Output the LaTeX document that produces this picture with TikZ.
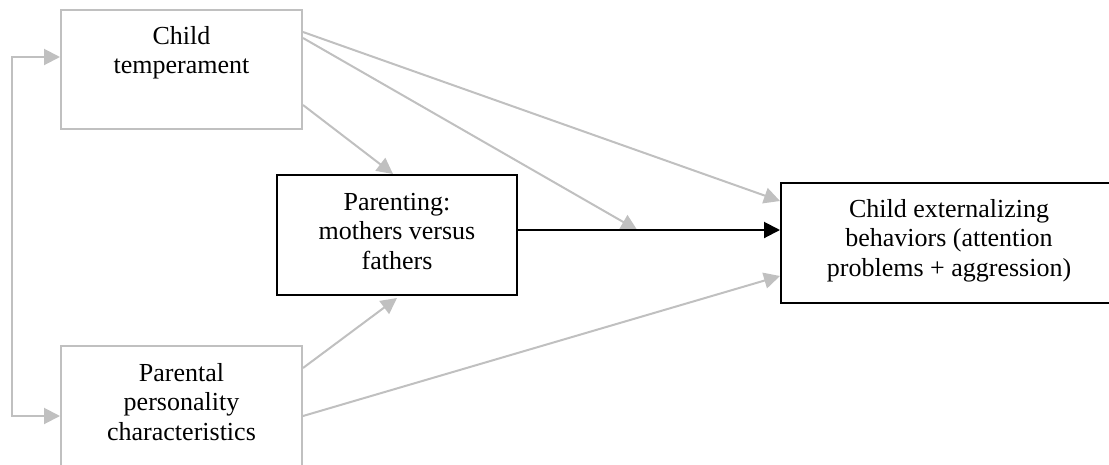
\documentclass[tikz,border=0pt]{standalone}
\usepackage{fontspec}
\setmainfont{Liberation Serif}
\usetikzlibrary{arrows.meta,calc}
\definecolor{linegray}{RGB}{192,192,192}
\begin{document}
\begin{tikzpicture}[x=1pt,y=-1pt,
  graybox/.style={draw=linegray, line width=2pt, fill=white, inner sep=0pt},
  blackbox/.style={draw=black, line width=2pt, fill=white, inner sep=0pt},
  lbl/.style={font=\fontsize{26}{29.5}\selectfont, align=center, inner sep=0pt},
  grayline/.style={draw=linegray, line width=2pt},
  grayarrow/.style={grayline, -{Triangle[length=16pt,width=16pt]}},
  blackarrow/.style={draw=black, line width=2pt, -{Triangle[length=16pt,width=16pt]}}]
\useasboundingbox (0,0) rectangle (1109,464);
\clip (0,0) rectangle (1109,464);

% boxes
\node[graybox, minimum width=241pt, minimum height=119pt] (ct) at (181.5,69.5) {};
\node[graybox, minimum width=241pt, minimum height=121pt] (pp) at (181.5,406.5) {};
\node[blackbox, minimum width=240pt, minimum height=120pt] (par) at (397,235) {};
\node[blackbox, minimum width=336pt, minimum height=120pt] (ext) at (949,243) {};

% box texts
\node[lbl, anchor=north] (ct-t) at ($(ct.north)+(0,17)$) {Child\\temperament};
\node[lbl, anchor=north] (pp-t) at ($(pp.north)+(0,18)$) {Parental\\personality\\characteristics};
\node[lbl, anchor=north] (par-t) at ($(par.north)+(0,19)$) {Parenting:\\mothers versus\\fathers};
\node[lbl, anchor=north] (ext-t) at ($(ext.north)+(0,17)$) {Child externalizing\\behaviors (attention\\problems + aggression)};

% connector points
\coordinate (pe) at ($(par.east)+(0,-5)$);
\coordinate (ee) at (ext.west |- pe);
\coordinate (mod) at ($(pe)!0.455!(ee)$);

% correlation between child temperament and parental personality
\draw[grayline, {Triangle[length=16pt,width=16pt]}-{Triangle[length=16pt,width=16pt]}]
  ($(ct.north west)+(0,48)$) -- ++(-48,0) |- ($(pp.north west)+(0,71)$);

% paths from child temperament
\draw[grayarrow] ($(ct.north east)+(0,23)$) -- ($(ext.north west)+(0,19)$);
\draw[grayarrow] ($(ct.north east)+(0,29)$) -- (mod);
\draw[grayarrow] ($(ct.north east)+(0,96)$) -- ($(par.north)+(-4,0)$);

% paths from parental personality
\draw[grayarrow] ($(pp.north east)+(0,23)$) -- ($(par.south)+(0,2)$);
\draw[grayarrow] ($(pp.north east)+(0,71)$) -- ($(ext.south west)+(0,-28)$);

% parenting to child outcomes
\draw[blackarrow] (pe) -- (ee);
\end{tikzpicture}
\end{document}
